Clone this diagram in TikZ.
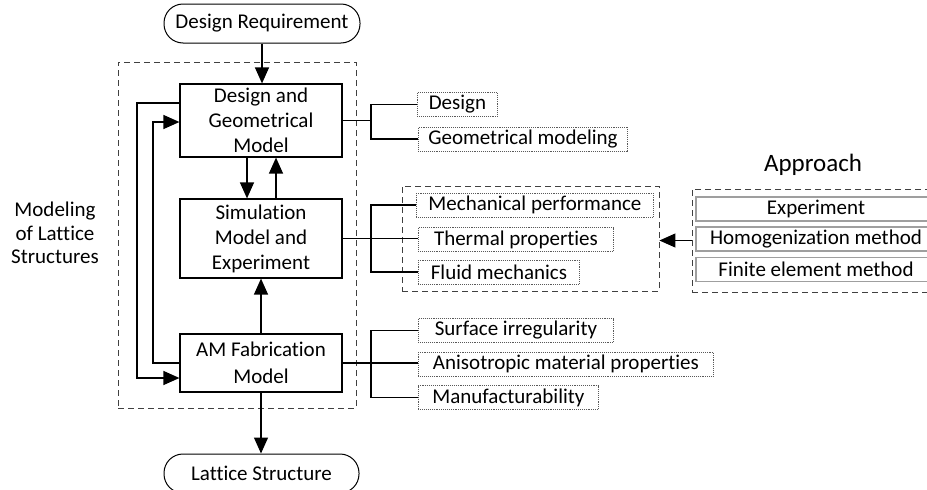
\documentclass[tikz,border=0pt]{standalone}
\usepackage{fontspec}
\setmainfont{Carlito}[Ligatures=NoCommon]
\usetikzlibrary{arrows.meta,calc}
\begin{document}
\begin{tikzpicture}[x=1pt,y=-1pt,
  every node/.style={font=\fontsize{21}{25}\selectfont, inner sep=0pt},
  mainbox/.style={draw=black, line width=1.2pt, align=center, minimum width=162pt},
  termbox/.style={draw=black, line width=1.0pt, rounded corners=19pt, minimum height=39pt, minimum width=196pt},
  subbox/.style={draw=gray!70!black, densely dotted, line width=0.9pt, minimum height=24pt},
  appbox/.style={draw=gray!75, line width=1.6pt, minimum height=24pt, minimum width=240pt},
  dbox/.style={draw=black!75, dash pattern=on 6pt off 4pt, line width=0.9pt},
  conn/.style={draw=black, line width=1.3pt},
  arr/.style={conn, -{Triangle[length=16pt,width=14pt]}}
]
\useasboundingbox (0,0) rectangle (927,490);

% dashed containers
\node[dbox, minimum width=238pt, minimum height=346pt] (outer) at (237,235) {};
\node[dbox, minimum width=257pt, minimum height=105pt] (mid) at (530.5,238.5) {};
\node[dbox, minimum width=248pt, minimum height=103pt] (appr) at (816,240.5) {};

% terminals
\node[termbox] (dr) at (262,23.5) {Design Requirement};
\node[termbox, minimum width=195pt] (ls) at (261.5,473.5) {Lattice Structure};

% main boxes
\node[mainbox, minimum height=73pt] (des) at (261,120.5) {Design and\\Geometrical\\Model};
\node[mainbox, minimum height=79pt] (sim) at (261,238.5) {Simulation\\Model and\\Experiment};
\node[mainbox, minimum height=58pt, font=\fontsize{21}{27}\selectfont] (am) at (261,363) {AM Fabrication\\Model};

% left label
\node[align=center, font=\fontsize{21}{23.5}\selectfont] (lbl) at (55,233) {Modeling\\of Lattice\\Structures};

% approach
\node[font=\fontsize{25}{30}\selectfont] (apt) at (813,165) {Approach};
\node[appbox] (p1) at (816,209) {Experiment};
\node[appbox] (p2) at (816,239) {Homogenization method};
\node[appbox] (p3) at (816,269.5) {Finite element method};

% sub boxes
\node[subbox, minimum width=80pt, anchor=west] (d1) at (417,104.5) {Design};
\node[subbox, minimum width=209pt, anchor=west] (d2) at (418,139) {Geometrical modeling};
\node[subbox, minimum width=237pt, anchor=west] (m1) at (416,205) {Mechanical performance};
\node[subbox, minimum width=195pt, anchor=west] (m2) at (418,239.5) {Thermal properties};
\node[subbox, minimum width=161pt, anchor=west] (m3) at (418,272) {Fluid mechanics};
\node[subbox, minimum width=195pt, anchor=west] (a1) at (418,330.5) {Surface irregularity};
\node[subbox, minimum width=295pt, anchor=west] (a2) at (418,364) {Anisotropic material properties};
\node[subbox, minimum width=180pt, anchor=west] (a3) at (418,397.5) {Manufacturability};

% junctions
\coordinate (j1) at (371,120.5);
\coordinate (j2) at (371,238.5);
\coordinate (j3) at (371,363);
\draw[conn] (des.east) -- (j1);
\draw[conn] (d1.west) -| (j1) |- (d2.west);
\draw[conn] (sim.east) -- (j2);
\draw[conn] (m1.west) -| (j2) |- (m3.west);
\draw[conn] (j2) -- (j2 -| m2.west);
\draw[conn] (am.east) -- (j3);
\draw[conn] (a1.west) -| (j3) |- (a3.west);
\draw[conn] (j3) -- (j3 -| a2.west);

% vertical flow
\draw[arr] (dr.south) -- (des.north -| dr.south);
\draw[arr] ([xshift=-14pt]des.south) -- ([xshift=-14pt]sim.north);
\draw[arr] ([xshift=15pt]sim.north) -- ([xshift=15pt]des.south);
\draw[arr] (am.north) -- (sim.south);
\draw[arr] (am.south) -- (ls.north -| am.south);

% feedback loops
\coordinate (o1) at (137,103);
\coordinate (o2) at (137,378);
\draw[arr] (des.west |- o1) -- (o1) -- (o2) -- (am.west |- o2);
\coordinate (i1) at (153,363);
\coordinate (i2) at (153,122);
\draw[arr] (am.west |- i1) -- (i1) -- (i2) -- (des.west |- i2);

% approach arrow
\draw[arr, line width=1.1pt] (appr.west) -- (appr.west -| mid.east);
\end{tikzpicture}
\end{document}
